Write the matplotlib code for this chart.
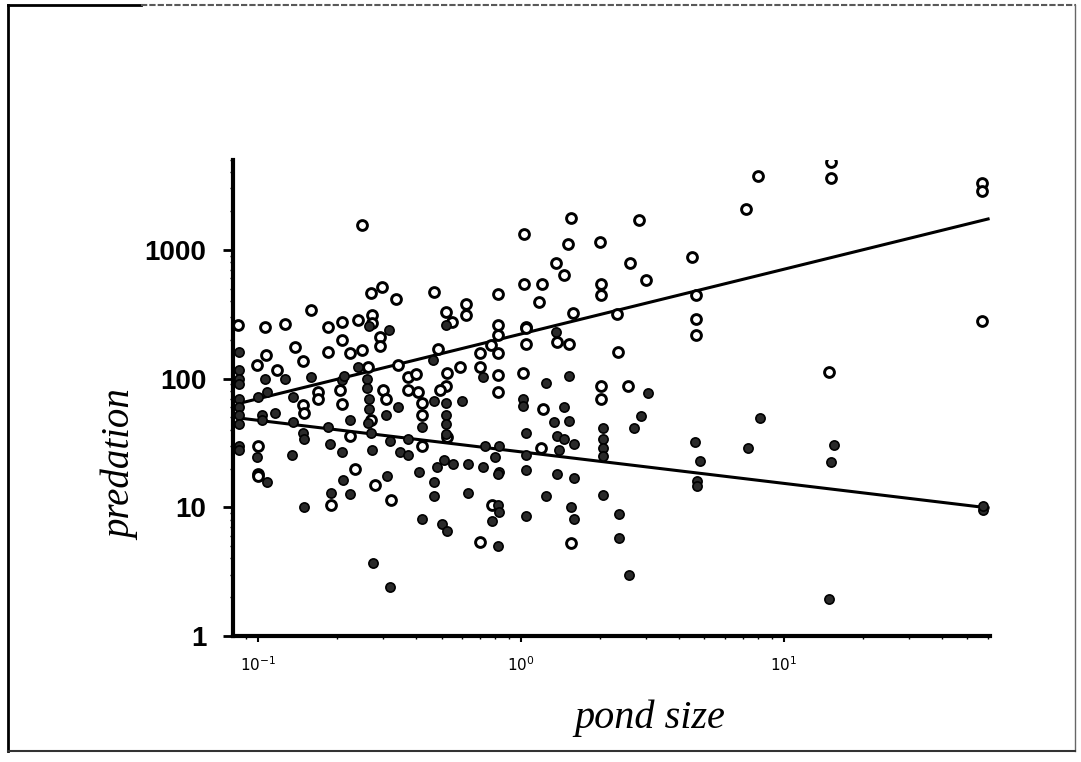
import numpy as np
import matplotlib
matplotlib.use("Agg")
import matplotlib.pyplot as plt
from matplotlib.ticker import LogLocator, FixedLocator, NullFormatter

# open circles: pond size, predation
open_x = [0.25, 1.03, 1.55, 2.82, 1.51, 2.0, 1.36, 2.6, 1.46, 1.03, 1.21, 2.02, 2.02, 3.0,
          1.17, 1.58, 2.33, 1.05, 0.27, 0.297, 0.336, 0.466, 0.52, 0.617, 0.617, 0.817,
          0.82, 0.272, 0.272, 0.55, 0.159, 0.084, 0.106, 0.127, 0.185, 0.209, 0.24,
          0.138, 0.107, 0.099, 0.118, 0.148, 0.185, 0.209, 0.224, 0.25, 0.206, 0.209,
          0.169, 0.169, 0.148, 0.15, 0.1, 0.224, 0.234, 0.1,
          0.292, 0.292, 0.817, 0.486, 0.768, 0.703, 0.82, 0.263, 0.342, 0.374, 0.40,
          0.526, 0.52, 0.495, 0.374, 0.405, 0.59, 0.703, 0.82, 0.82, 0.42, 0.42, 0.30,
          0.306, 0.526, 0.42, 0.27,
          1.05, 1.05, 1.38, 1.52, 2.35, 1.02, 2.02, 2.02, 2.56, 1.22, 1.19,
          0.1, 0.19, 0.28, 0.32, 0.70, 0.78, 1.55,
          8.0, 7.2, 4.5, 4.65, 4.65, 4.65, 15.2, 15.2, 57, 57, 57, 14.9]
open_y = [1550, 1330, 1770, 1710, 1110, 1150, 795, 795, 640, 545, 545, 545, 448, 585,
          395, 325, 320, 253, 464, 517, 417, 472, 331, 382, 313, 456,
          262, 313, 272, 277, 343, 262, 253, 267, 253, 277, 287,
          177, 153, 128, 117, 136, 162, 200, 158, 168, 82, 63,
          79, 69, 62, 54, 30, 35.5, 20, 18,
          212, 180, 219, 171, 184, 158, 158, 124, 128, 103, 109,
          111, 87, 82, 82, 79, 124, 124, 106, 79, 65, 52, 82,
          69, 35, 30, 48,
          248, 187, 194, 187, 162, 111, 88, 70, 88, 58, 29,
          17.6, 10.5, 15, 11.4, 5.4, 10.5, 5.3,
          3750, 2080, 880, 448, 292, 219, 4810, 3610, 3300, 2870, 282, 113]

# filled circles
fill_x = [0.085, 0.085, 0.085, 0.085, 0.085, 0.085, 0.085, 0.085, 0.085, 0.085,
          0.106, 0.127, 0.10, 0.108, 0.104, 0.104, 0.116, 0.136, 0.159, 0.136,
          0.148, 0.15, 0.185, 0.188, 0.209, 0.209, 0.135, 0.099, 0.224, 0.24, 0.213,
          0.265, 0.26, 0.26, 0.265, 0.265, 0.262, 0.27, 0.316, 0.52,
          0.462, 0.72, 0.42, 0.466, 0.60, 0.52, 0.52, 0.52, 0.52, 0.34, 0.306,
          0.317, 0.374, 0.348, 0.374, 0.734, 0.83, 0.80, 0.51, 0.555, 0.63, 0.72,
          0.83, 0.41, 0.272, 0.48,
          1.36, 1.25, 1.52, 3.05, 1.02, 1.02, 1.46, 2.87, 2.7, 1.34, 1.52, 1.05,
          1.38, 1.46, 1.6, 2.06, 2.06, 2.06, 2.06, 1.4, 1.05, 1.05, 1.38, 1.6,
          0.108, 0.15, 0.19, 0.224, 0.21,
          0.274, 0.319, 0.31, 0.466, 0.466, 0.42, 0.50, 0.526, 0.63, 0.82,
          0.82, 0.83, 0.78, 0.82,
          1.25, 1.05, 1.55, 1.6, 2.05, 2.37, 2.37, 2.58,
          8.1, 4.6, 4.8, 4.7, 4.7, 7.35, 15.6, 15.2, 57.5, 57.5, 14.9]
fill_y = [160, 117, 100, 90, 69, 60, 52.5, 44, 30, 28,
          100, 100, 72, 79, 52, 48, 54, 72, 103, 46,
          38, 34, 42, 31, 98, 27, 25.7, 24.8, 48, 124, 104,
          255, 100, 85, 70, 58, 45, 38, 240, 262,
          140, 103, 42, 67, 67, 65, 52, 44, 37, 60, 52,
          32.5, 34, 27, 25.7, 30, 30, 24.8, 23.5, 21.5, 21.5, 20.7,
          18.7, 18.7, 28, 20.7,
          231, 93, 104, 77, 69, 61, 60, 51, 41, 46, 46.5, 38,
          35.5, 34, 31, 41, 34, 29, 25, 28, 25.7, 19.6, 18, 17,
          15.8, 10, 13, 12.6, 16.4,
          3.7, 2.4, 17.6, 15.6, 12.2, 8.1, 7.4, 6.5, 12.8, 5.0,
          10.5, 9.2, 7.8, 18,
          12.2, 8.6, 10, 8.1, 12.4, 8.9, 5.8, 3.0,
          49, 32, 22.8, 16, 14.6, 29, 30.7, 22.3, 9.6, 10.3, 1.94]

# fitted lines in log10 space: log y = a + b * log x
fit_open = (2.346, 0.503)
fit_fill = (1.431, -0.245)
fit_range = [0.085, 60]

y_ticks = [1, 10, 100, 1000]
y_labels = ["1", "10", "100", "1000"]
x_ticks = [0.1, 1, 10]
x_labels = [r"$10^{-1}$", r"$10^{0}$", r"$10^{1}$"]

fig = plt.figure(figsize=(10.81, 7.62), dpi=100)
ax = fig.add_axes([0.2155, 0.1654, 0.7003, 0.6247])

ax.scatter(open_x, open_y, s=50, facecolors="white", edgecolors="black",
           linewidths=2.1, zorder=3)
ax.scatter(fill_x, fill_y, s=44, facecolors="#2a2a2a", edgecolors="black",
           linewidths=1.2, zorder=3)

lx = np.array(fit_range)
for a, b in (fit_open, fit_fill):
    ax.plot(lx, 10 ** (a + b * np.log10(lx)), color="black", lw=2.2, zorder=2)

ax.set_xscale("log")
ax.set_yscale("log")
ax.set_xlim(0.0804, 61)
ax.set_ylim(1, 5000)

for side in ("top", "right"):
    ax.spines[side].set_visible(False)
ax.spines["left"].set_linewidth(3)
ax.spines["bottom"].set_linewidth(3)

ax.yaxis.set_major_locator(FixedLocator(y_ticks))
ax.set_yticklabels(y_labels, fontsize=20, fontweight="bold", family="Liberation Sans")
ax.xaxis.set_major_locator(FixedLocator(x_ticks))
ax.set_xticklabels(x_labels, fontsize=11)
ax.yaxis.set_minor_locator(LogLocator(base=10, subs=np.arange(2, 10)))
ax.xaxis.set_minor_locator(LogLocator(base=10, subs=np.arange(2, 10)))
ax.yaxis.set_minor_formatter(NullFormatter())
ax.xaxis.set_minor_formatter(NullFormatter())
ax.tick_params(axis="y", which="major", direction="out", length=7, width=2, pad=12)
ax.tick_params(axis="x", which="major", direction="out", length=4, width=1.5, pad=10)
ax.tick_params(which="minor", direction="out", length=2.5, width=1)

ax.set_ylabel("predation", fontsize=28, style="italic", family="Liberation Serif")
ax.yaxis.set_label_coords(-0.123, 0.36)
ax.set_xlabel("pond size", fontsize=29, style="italic", family="Liberation Serif")
ax.xaxis.set_label_coords(0.551, -0.134)

# scanned page frame
fig.add_artist(plt.Line2D([0.007, 0.007], [0.015, 0.993], color="black", lw=2,
                          transform=fig.transFigure))
fig.add_artist(plt.Line2D([0.007, 0.13], [0.993, 0.993], color="black", lw=2,
                          transform=fig.transFigure))
fig.add_artist(plt.Line2D([0.13, 0.995], [0.993, 0.993], color="0.35", lw=1.5,
                          ls=(0, (3, 1)), transform=fig.transFigure))
fig.add_artist(plt.Line2D([0.994, 0.994], [0.015, 0.993], lw=1, color="0.4",
                          transform=fig.transFigure))
fig.add_artist(plt.Line2D([0.007, 0.994], [0.015, 0.015], lw=1.5, color="0.2",
                          transform=fig.transFigure))

fig.savefig("out.png", dpi=100)
